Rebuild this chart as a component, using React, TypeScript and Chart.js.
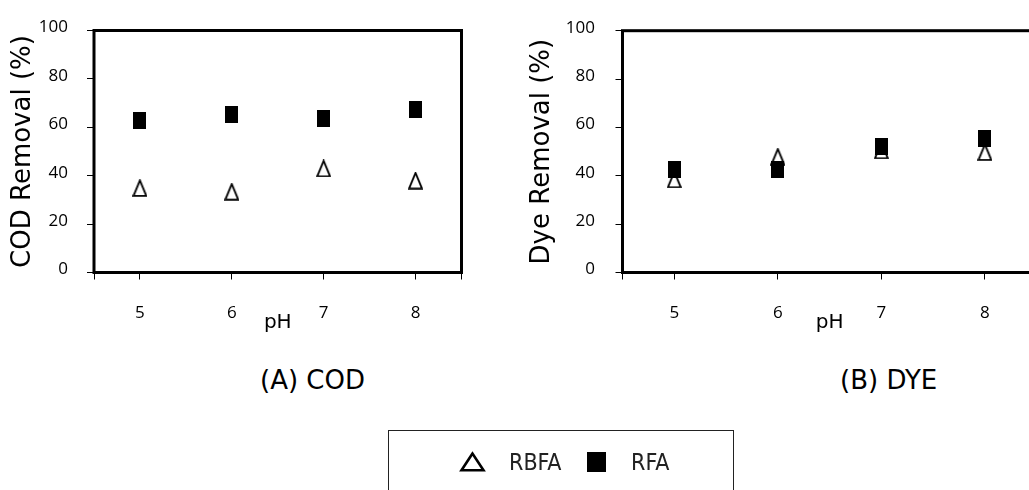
import React, { useEffect, useRef } from 'react';
import { Chart, registerables } from 'chart.js';

Chart.register(...registerables);

// ---- data ----
const PH = [5, 6, 7, 8];
const X_MIN = 4.5;
const X_MAX = 8.5;
const Y_TICKS = [0, 20, 40, 60, 80, 100];
const SERIES = ['RBFA', 'RFA'];
const COD_RBFA = [34.9, 33.4, 43.0, 38.0];
const COD_RFA = [63.0, 65.1, 63.7, 67.3];
const DYE_RBFA = [38.5, 47.9, 50.5, 49.8];
const DYE_RFA = [42.4, 42.8, 52.3, 55.6];
const Y_TITLES = ['COD Removal (%)', 'Dye Removal (%)'];
const X_TITLE = 'pH';
const CAPTIONS = ['(A) COD', '(B) DYE'];

const CANVAS_H = 345;
const X_AXIS_H = 72.5;

function makeTriangle(): HTMLCanvasElement {
  const c = document.createElement('canvas');
  c.width = 15;
  c.height = 18;
  const ctx = c.getContext('2d')!;
  ctx.beginPath();
  ctx.moveTo(7.5, 1.3);
  ctx.lineTo(13.9, 16.8);
  ctx.lineTo(1.1, 16.8);
  ctx.closePath();
  ctx.fillStyle = '#fff';
  ctx.fill();
  ctx.lineWidth = 1.8;
  ctx.strokeStyle = '#000';
  ctx.stroke();
  return c;
}

function makeSquare(): HTMLCanvasElement {
  const c = document.createElement('canvas');
  c.width = 13;
  c.height = 17;
  const ctx = c.getContext('2d')!;
  ctx.fillStyle = '#000';
  ctx.fillRect(0, 0, 13, 17);
  return c;
}

const framePlugin = {
  id: 'frame',
  afterDraw(chart: any) {
    const { ctx, chartArea: a } = chart;
    ctx.save();
    ctx.strokeStyle = '#000';
    ctx.lineWidth = 3;
    ctx.strokeRect(a.left, a.top, a.right - a.left, a.bottom - a.top);
    ctx.restore();
  },
};

type PanelProps = {
  rbfa: number[];
  rfa: number[];
  yTitle: string;
  left: number;
  width: number;
  yWidth: number;
  padTop: number;
  padRight: number;
  yTickPad: number;
  yTitlePad: number;
};

function Panel(p: PanelProps) {
  const ref = useRef<HTMLCanvasElement>(null);
  useEffect(() => {
    const tri = makeTriangle();
    const sq = makeSquare();
    const chart = new Chart(ref.current!, {
      type: 'scatter',
      data: {
        datasets: [
          {
            label: SERIES[1],
            data: PH.map((x, i) => ({ x, y: p.rfa[i] })),
            pointStyle: sq as any,
            order: 0,
          },
          {
            label: SERIES[0],
            data: PH.map((x, i) => ({ x, y: p.rbfa[i] })),
            pointStyle: tri as any,
            order: 1,
          },
        ],
      },
      options: {
        animation: false,
        responsive: false,
        maintainAspectRatio: false,
        layout: { padding: { left: 0, top: p.padTop, right: p.padRight, bottom: 0 } },
        plugins: { legend: { display: false }, tooltip: { enabled: false } },
        scales: {
          x: {
            type: 'linear',
            min: X_MIN,
            max: X_MAX,
            afterBuildTicks: (s: any) => {
              s.ticks = [X_MIN, ...PH, X_MAX].map((v) => ({ value: v }));
            },
            afterFit: (s: any) => {
              s.height = X_AXIS_H;
            },
            grid: { drawOnChartArea: false, drawTicks: true, tickLength: 7, color: '#000', lineWidth: 1 },
            border: { display: false },
            ticks: {
              autoSkip: false,
              maxRotation: 0,
              padding: 23.6,
              color: '#000',
              font: { family: 'Open Sans', size: 17 },
              callback: (v: any) => (PH.includes(Number(v)) ? String(v) : ''),
            },
            title: {
              display: true,
              text: X_TITLE,
              color: '#000',
              font: { family: 'DejaVu Sans', size: 20, lineHeight: 1.2 },
              padding: { top: 0, bottom: 10 },
            },
          },
          y: {
            type: 'linear',
            min: 0,
            max: 100,
            afterBuildTicks: (s: any) => {
              s.ticks = Y_TICKS.map((v) => ({ value: v }));
            },
            afterFit: (s: any) => {
              s.width = p.yWidth;
            },
            grid: { drawOnChartArea: false, drawTicks: true, tickLength: 7, color: '#000', lineWidth: 1 },
            border: { display: false },
            ticks: {
              padding: p.yTickPad,
              labelOffset: -3,
              color: '#000',
              font: { family: 'Open Sans', size: 17 },
            },
            title: {
              display: true,
              text: p.yTitle,
              color: '#000',
              font: { family: 'DejaVu Sans', size: 26, lineHeight: 1.2 },
              padding: { top: p.yTitlePad, bottom: 0 },
            },
          },
        },
      },
      plugins: [framePlugin],
    } as any);
    return () => chart.destroy();
  }, []);
  return (
    <canvas
      ref={ref}
      width={p.width}
      height={CANVAS_H}
      style={{ position: 'absolute', left: p.left, top: 0, width: p.width, height: CANVAS_H }}
    />
  );
}

const captionStyle: React.CSSProperties = {
  position: 'absolute',
  top: 364.5,
  fontFamily: 'DejaVu Sans',
  fontSize: 26,
  lineHeight: '30px',
  color: '#000',
  whiteSpace: 'nowrap',
};

const legendText: React.CSSProperties = {
  position: 'absolute',
  top: 448.7,
  fontFamily: "'Liberation Sans Narrow', 'DejaVu Sans Condensed', sans-serif",
  fontSize: 23,
  lineHeight: '26.5px',
  color: '#222',
  whiteSpace: 'nowrap',
};

export default function App() {
  return (
    <div
      style={{
        position: 'absolute',
        left: 0,
        top: 0,
        width: 1029,
        height: 490,
        overflow: 'hidden',
        background: '#fff',
      }}
    >
      <Panel
        rbfa={COD_RBFA}
        rfa={COD_RFA}
        yTitle={Y_TITLES[0]}
        left={0}
        width={520}
        yWidth={94}
        padTop={30.5}
        padRight={58.5}
        yTickPad={19}
        yTitlePad={7.6}
      />
      <Panel
        rbfa={DYE_RBFA}
        rfa={DYE_RFA}
        yTitle={Y_TITLES[1]}
        left={520}
        width={560}
        yWidth={102.5}
        padTop={27.5}
        padRight={43.3}
        yTickPad={20.5}
        yTitlePad={6.7}
      />
      <div style={{ ...captionStyle, left: 260 }}>{CAPTIONS[0]}</div>
      <div style={{ ...captionStyle, left: 840 }}>{CAPTIONS[1]}</div>
      <div
        style={{
          position: 'absolute',
          left: 388,
          top: 430,
          width: 346,
          height: 100,
          border: '1px solid #222',
          boxSizing: 'border-box',
        }}
      />
      <svg
        width={1029}
        height={490}
        style={{ position: 'absolute', left: 0, top: 0, pointerEvents: 'none' }}
      >
        <polygon
          points="472.5,453.5 461.5,470.3 483.5,470.3"
          fill="#fff"
          stroke="#000"
          strokeWidth={2.6}
        />
        <rect x={587} y={452} width={19} height={20} fill="#000" />
      </svg>
      <div style={{ ...legendText, left: 509 }}>{SERIES[0]}</div>
      <div style={{ ...legendText, left: 631 }}>{SERIES[1]}</div>
    </div>
  );
}
